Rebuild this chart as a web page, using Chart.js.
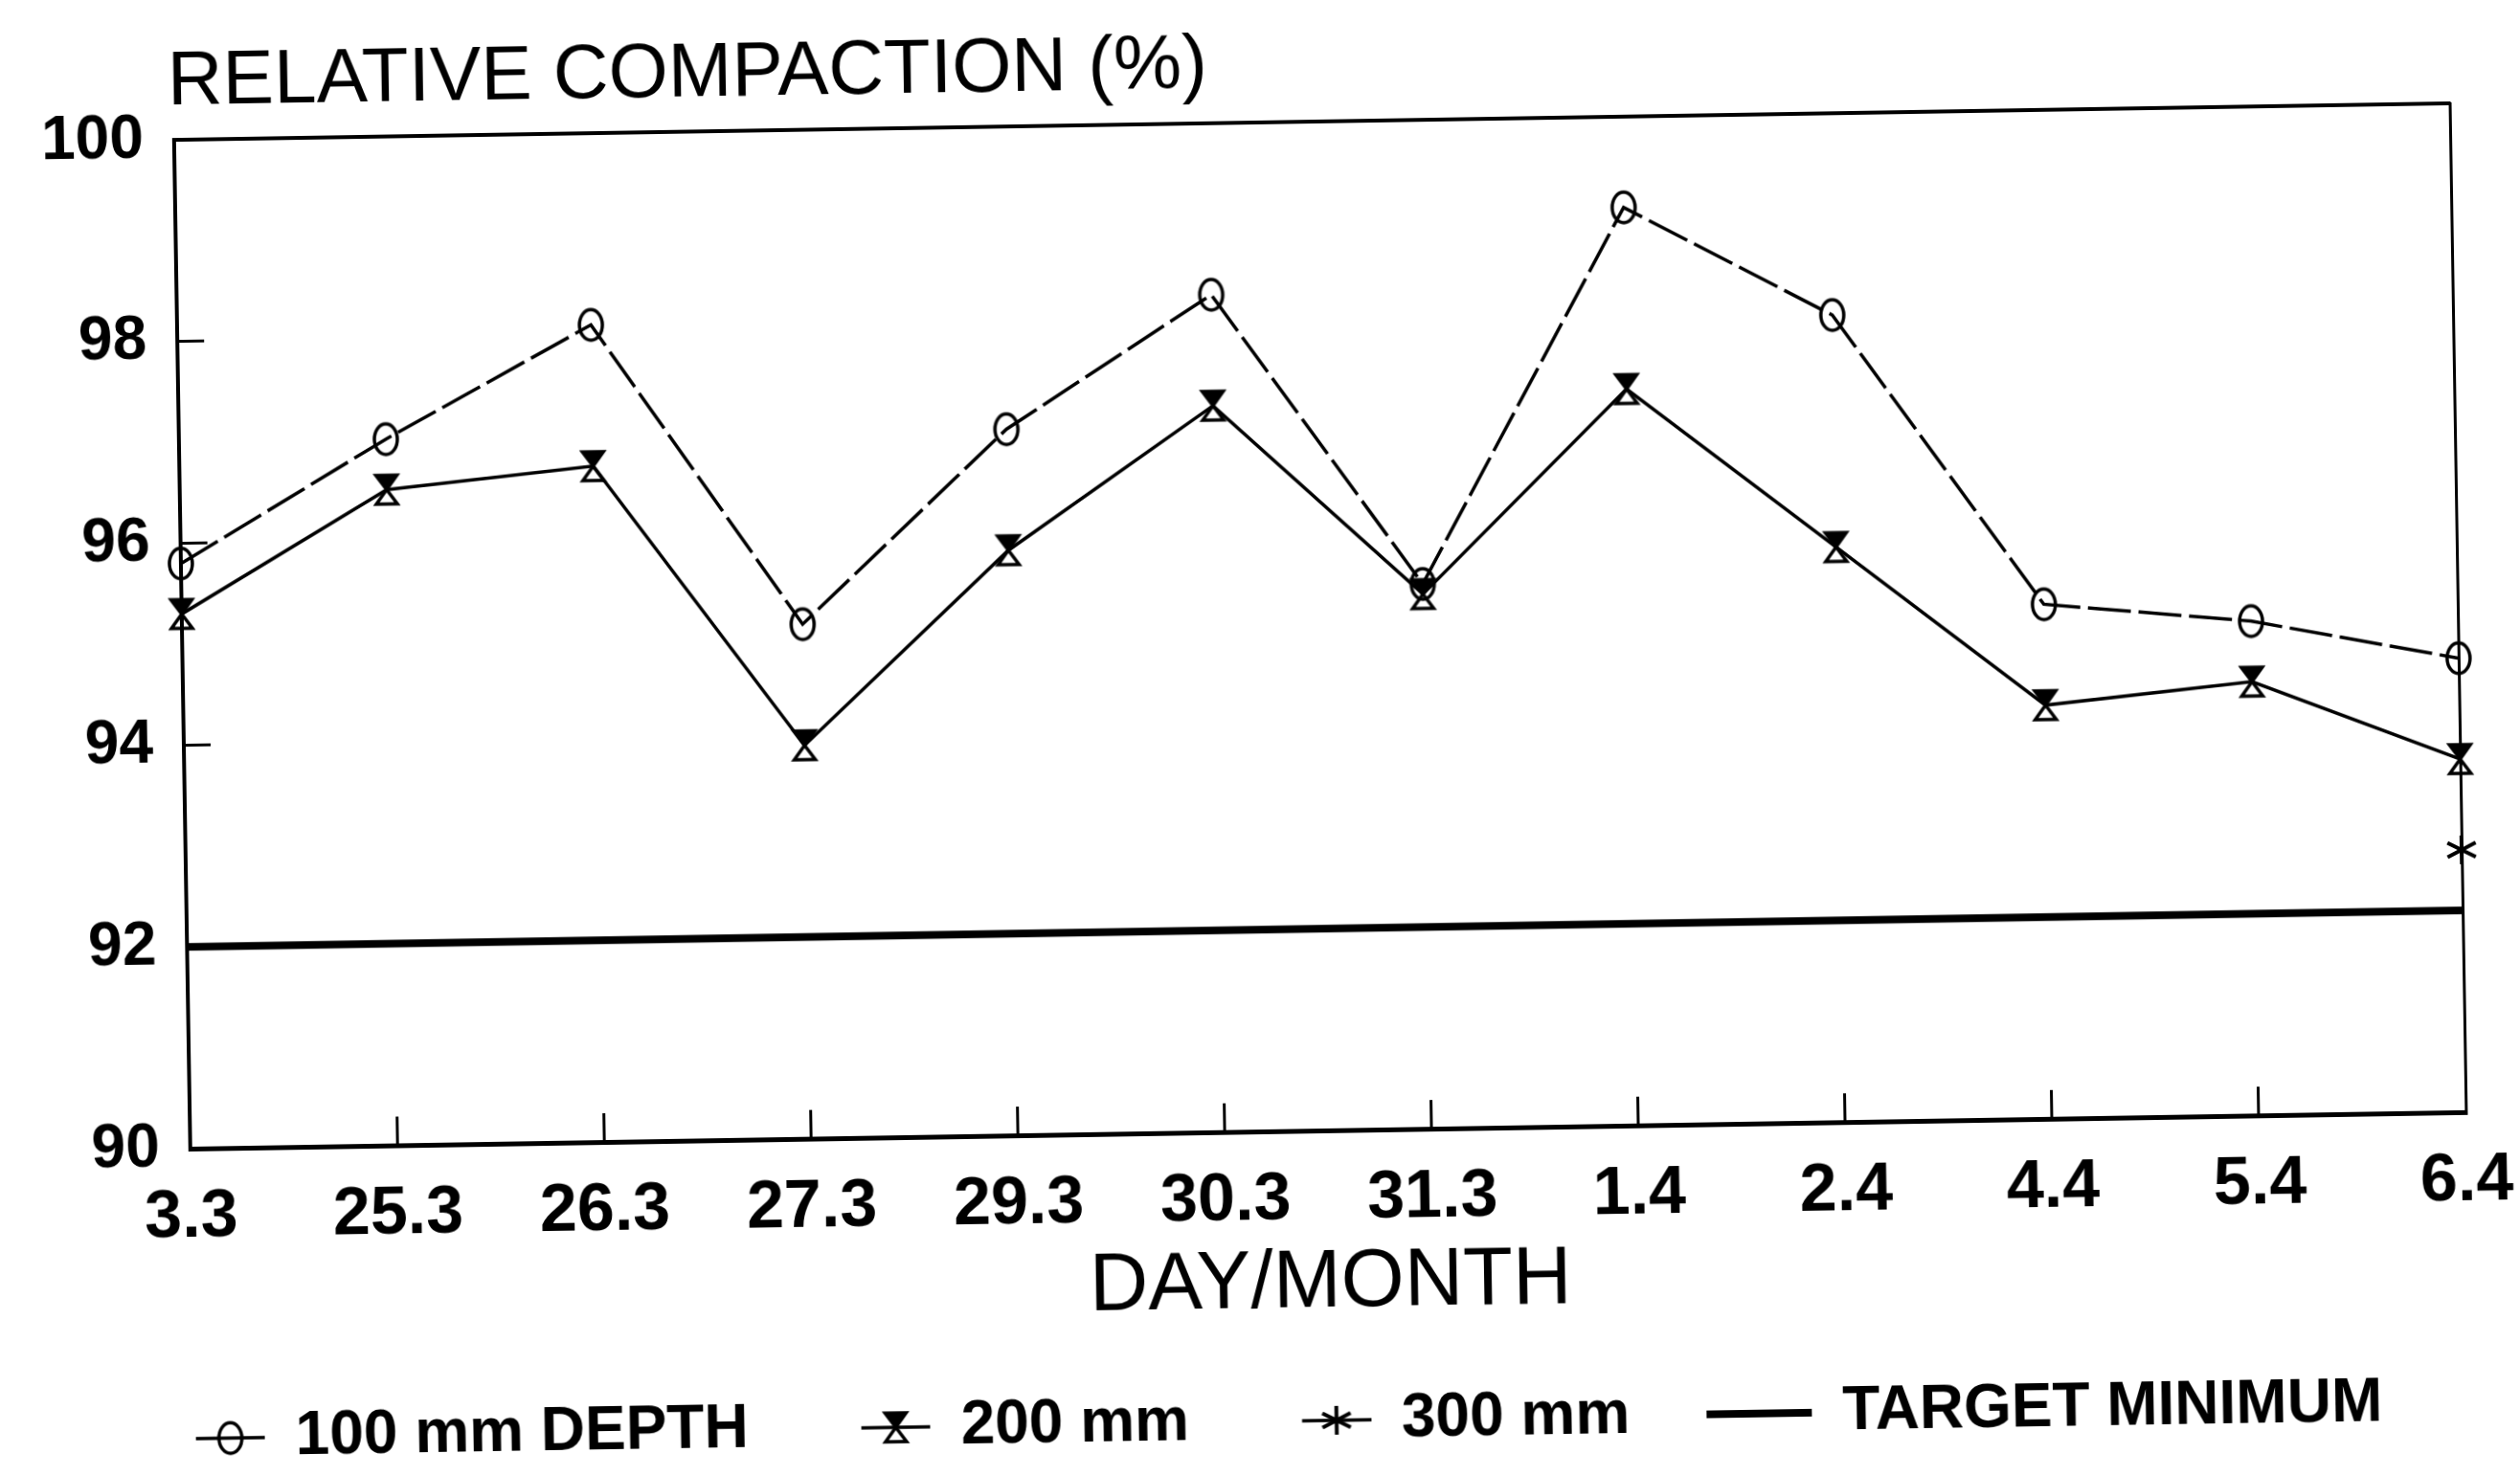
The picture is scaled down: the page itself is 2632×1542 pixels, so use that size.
<!DOCTYPE html>
<html>
<head>
<meta charset="utf-8">
<script src="https://cdn.jsdelivr.net/npm/chart.js@4.4.1/dist/chart.umd.min.js"></script>
<style>
  html, body { margin: 0; padding: 0; background: #fff; overflow: hidden; }
  #wrap { width: 2632px; height: 1542px; transform: rotate(-0.92deg); transform-origin: 50% 50%; }
  canvas { display: block; }
</style>
</head>
<body>
<div id="wrap"><canvas id="myChart" width="2632" height="1542"></canvas></div>
<script>
    const categories = ['3.3', '25.3', '26.3', '27.3', '29.3', '30.3', '31.3', '1.4', '2.4', '4.4', '5.4', '6.4']
    const depth100 = [95.8, 97.0, 98.1, 95.1, 97.0, 98.3, 95.4, 99.1, 98.0, 95.1, 94.9, 94.5]
    const depth200 = [95.3, 96.5, 96.7, 93.9, 95.8, 97.2, 95.3, 97.3, 95.7, 94.1, 94.3, 93.5]
    const depth300 = [null, null, null, null, null, null, null, null, null, null, null, 92.6]
    const targetMin = [92, 92, 92, 92, 92, 92, 92, 92, 92, 92, 92, 92]
    const yMin = 90
    const yMax = 100
    const yStep = 2
    const seriesNames = ['100 mm DEPTH', '200 mm', '300 mm', 'TARGET MINIMUM']
    const yTitle = 'RELATIVE COMPACTION (%)'
    const xTitle = 'DAY/MONTH'

    Chart.defaults.font.family = '"Liberation Sans", Arial, sans-serif'
    Chart.defaults.color = '#000'

    // little drawn markers, used as point styles
    const drawMarker = (c, kind, cx, cy) => {
        c.strokeStyle = '#000'
        c.fillStyle = '#000'
        if (kind === 'circle') {
            c.lineWidth = 3.5
            c.beginPath()
            c.ellipse(cx, cy, 12, 16, 0, 0, Math.PI * 2)
            c.stroke()
        } else if (kind === 'hourglass') {
            c.lineWidth = 3.5
            c.beginPath()
            c.moveTo(cx - 11, cy - 15)
            c.lineTo(cx + 11, cy - 15)
            c.lineTo(cx, cy)
            c.closePath()
            c.fill()
            c.beginPath()
            c.moveTo(cx - 11, cy - 15)
            c.lineTo(cx + 11, cy - 15)
            c.lineTo(cx - 11, cy + 15)
            c.lineTo(cx + 11, cy + 15)
            c.closePath()
            c.stroke()
        } else if (kind === 'star') {
            c.lineWidth = 4
            c.beginPath()
            ;[90, 30, 150].forEach(a => {
                const r = a * Math.PI / 180
                c.moveTo(cx - Math.cos(r) * 17, cy - Math.sin(r) * 15)
                c.lineTo(cx + Math.cos(r) * 17, cy + Math.sin(r) * 15)
            })
            c.stroke()
        }
    }

    const makeMarker = (kind) => {
        const cv = document.createElement('canvas')
        cv.width = 40
        cv.height = 40
        drawMarker(cv.getContext('2d'), kind, 20, 20)
        return cv
    }

    const iconW = 110
    const makeIcon = (kind, x0, lw) => {
        const cv = document.createElement('canvas')
        cv.width = iconW
        cv.height = 44
        const c = cv.getContext('2d')
        c.strokeStyle = '#000'
        c.lineWidth = lw
        c.beginPath()
        c.moveTo(x0, 22)
        c.lineTo(iconW, 22)
        c.stroke()
        if (kind) drawMarker(c, kind, (x0 + iconW) / 2, 22)
        return cv
    }

    const markers = [makeMarker('circle'), makeMarker('hourglass'), makeMarker('star')]
    const legendIcons = [makeIcon('circle', 38, 3.5), makeIcon('hourglass', 38, 3.5), makeIcon('star', 38, 3.5), makeIcon(null, 0, 8)]

    const titlePlugin = {
        id: 'yTitle',
        afterDraw(chart) {
            const {ctx, chartArea} = chart
            ctx.save()
            ctx.font = '80px "Liberation Sans", Arial, sans-serif'
            ctx.fillStyle = '#000'
            ctx.textBaseline = 'alphabetic'
            ctx.fillText(yTitle, chartArea.left - 6, chartArea.top - 37)
            ctx.restore()
        }
    }

    const ctx = document.getElementById('myChart').getContext('2d')

    const chart = new Chart(ctx, {
        type: 'line',
        data: {
            labels: categories,
            datasets: [
                {
                    label: seriesNames[0], data: depth100, xAxisID: 'x', yAxisID: 'y',
                    borderColor: '#000', borderWidth: 3.5, borderDash: [45, 8],
                    pointStyle: markers[0], pointRadius: 16, clip: false
                },
                {
                    label: seriesNames[1], data: depth200, xAxisID: 'x', yAxisID: 'y',
                    borderColor: '#000', borderWidth: 3.5,
                    pointStyle: markers[1], pointRadius: 16, clip: false
                },
                {
                    label: seriesNames[2], data: depth300, xAxisID: 'x', yAxisID: 'y',
                    borderColor: '#000', borderWidth: 3.5, spanGaps: false,
                    pointStyle: markers[2], pointRadius: 16, clip: false
                },
                {
                    label: seriesNames[3], data: targetMin, xAxisID: 'x', yAxisID: 'y',
                    borderColor: '#000', borderWidth: 8, pointRadius: 0, clip: false
                }
            ]
        },
        options: {
            responsive: false,
            animation: false,
            devicePixelRatio: 1,
            layout: { padding: { left: 0, right: 0, top: 128, bottom: 15 } },
            elements: { line: { tension: 0 } },
            plugins: {
                tooltip: { enabled: false },
                title: { display: false },
                legend: {
                    position: 'bottom',
                    labels: {
                        usePointStyle: true,
                        pointStyleWidth: iconW,
                        padding: 80,
                        color: '#000',
                        font: { size: 64, weight: 'bold' },
                        generateLabels: (ch) => ch.data.datasets.map((ds, i) => ({
                            text: ds.label,
                            pointStyle: legendIcons[i],
                            datasetIndex: i,
                            hidden: false,
                            fontColor: '#000',
                            lineWidth: 0,
                            strokeStyle: 'rgba(0,0,0,0)',
                            fillStyle: 'rgba(0,0,0,0)'
                        }))
                    }
                }
            },
            scales: {
                x: {
                    ticks: { color: '#000', font: { size: 70, weight: 'bold' }, padding: 61, autoSkip: false, maxRotation: 0 },
                    grid: { drawOnChartArea: false, color: '#000', lineWidth: 3, tickLength: -30 },
                    border: { color: '#000', width: 5 },
                    title: { display: true, text: xTitle, color: '#000', font: { size: 85 }, padding: { top: 0, bottom: -21 } },
                    afterFit: (s) => { s.height = 191; s.paddingLeft = 0; s.paddingRight = 0 }
                },
                x2: {
                    position: 'top',
                    ticks: { display: false },
                    grid: { drawOnChartArea: false, drawTicks: false },
                    border: { color: '#000', width: 4 },
                    afterFit: (s) => { s.height = 0; s.paddingLeft = 0; s.paddingRight = 0 }
                },
                y: {
                    min: yMin,
                    max: yMax,
                    ticks: { stepSize: yStep, color: '#000', font: { size: 64, weight: 'bold' }, padding: 60 },
                    grid: { drawOnChartArea: false, color: '#000', lineWidth: 3, tickLength: -28 },
                    border: { color: '#000', width: 4 },
                    afterFit: (s) => { s.width = 192 }
                },
                y2: {
                    position: 'right',
                    min: yMin,
                    max: yMax,
                    ticks: { display: false },
                    grid: { drawOnChartArea: false, drawTicks: false },
                    border: { color: '#000', width: 3 },
                    afterFit: (s) => { s.width = 63 }
                }
            }
        },
        plugins: [titlePlugin]
    })
</script>
</body>
</html>
